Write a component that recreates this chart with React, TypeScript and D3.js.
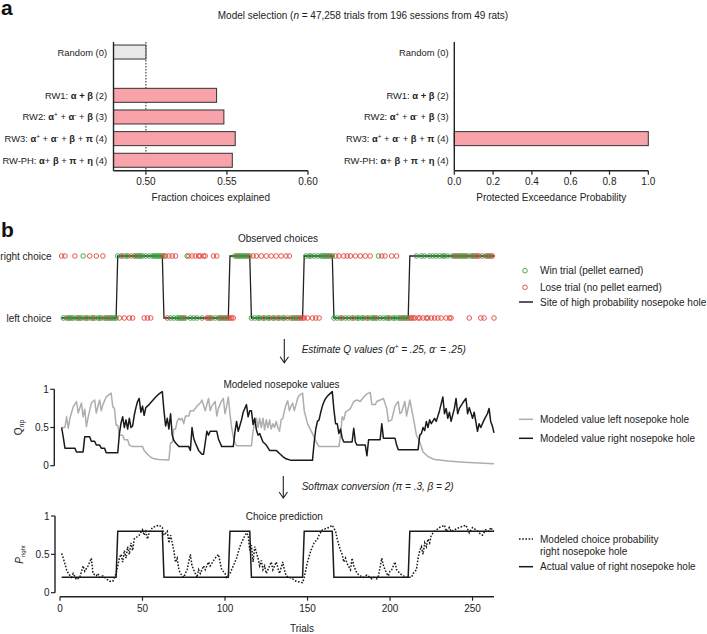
import * as d3 from "d3";

type Seg = [string, string?];
type Pt = [number, number];

const FONT = '"Liberation Sans", Arial, Helvetica, sans-serif';

// panel a data
const modelKeys = ["Random", "gap", "RW1", "RW2", "RW3", "RW-PH"];
const modelLabels: Seg[][] = [
  [["Random (0)"]],
  [],
  [["RW1: "], ["α + β", "b"], [" (2)"]],
  [["RW2: "], ["α", "b"], ["+", "sup"], [" + "], ["α", "b"], ["-", "sup"], [" + "], ["β", "b"], [" (3)"]],
  [["RW3: "], ["α", "b"], ["+", "sup"], [" + "], ["α", "b"], ["-", "sup"], [" + "], ["β", "b"], [" + "], ["π", "b"], [" (4)"]],
  [["RW-PH: "], ["α", "b"], ["+ "], ["β", "b"], [" + "], ["π", "b"], [" + "], ["η", "b"], [" (4)"]],
];
const fractionExplained = [0.5, null, 0.5436, 0.5481, 0.5551, 0.5533];
const exceedance = [0, null, 0, 0, 1, 0];
const fractionTicks = [0.5, 0.55, 0.6];
const exceedanceTicks = [0, 0.2, 0.4, 0.6, 0.8, 1];

// panel b data: R/L = right/left win, r/l = right/left lose
const choiceBlocks = [
  "rLrLlLLLrLlLLRLlLrLLlrLLLrlLLLlLLL",
  "RlRrlRRlrlRRrRRRlRlRlRRRRRRR",
  "rrlrLrLrLLLLlLRrLrLrLrrLrrllLlrLrLlLLlLl",
  "lllRRrRRRRRrR",
  "LrLrLLrLlrLLrlLrLlrLLrlrLlLLlLll",
  "lRlRRlRlRlRRRRRrRR",
  "LrLrLlrLrLrLlrLLrLLrlLrLLLlRLrLrLLlrLLrLLLlLLL",
  "llllRllRlRllRlRlRlRlRRlRllRrRRrRRRrRlRrRRrrlRlrRrRrl",
];
const blockStarts = [1, 35, 63, 103, 116, 148, 166, 212];
const blockSides = ["L", "R", "L", "R", "L", "R", "L", "R"];
const nTrials = 263;
const actualLow = 0.2;
const actualHigh = 0.8;

const qLeft: Pt[] = [
  [1, 0.5], [3, 0.5], [4, 0.64], [5, 0.49], [6, 0.62], [8, 0.77], [10, 0.84], [11, 0.69], [13, 0.82], [14, 0.64],
  [15, 0.74], [16, 0.51], [17, 0.63], [19, 0.82], [21, 0.86], [22, 0.69], [24, 0.86], [25, 0.72], [26, 0.8], [28, 0.9],
  [31, 0.95], [32, 0.77], [33, 0.75], [34, 0.53], [35, 0.53],
  [36, 0.4], [38, 0.4], [39, 0.34], [41, 0.34], [42, 0.27], [44, 0.25], [50, 0.25], [51, 0.2], [53, 0.15], [55, 0.11],
  [57, 0.09], [60, 0.08], [66, 0.075],
  [67, 0.3], [68, 0.3], [69, 0.48], [70, 0.48], [71, 0.58], [72, 0.62], [73, 0.6], [74, 0.62], [75, 0.55], [76, 0.65],
  [78, 0.65], [79, 0.72], [81, 0.72], [83, 0.78], [85, 0.82], [86, 0.86], [88, 0.72], [89, 0.8], [90, 0.88], [91, 0.72],
  [92, 0.78], [94, 0.84], [95, 0.65], [96, 0.75], [98, 0.85], [99, 0.88], [100, 0.68], [101, 0.78], [102, 0.9], [103, 0.68],
  [104, 0.5], [105, 0.38], [106, 0.3], [107, 0.26], [116, 0.26],
  [117, 0.45], [118, 0.58], [119, 0.62], [120, 0.5], [121, 0.62], [122, 0.5], [123, 0.62], [124, 0.47], [125, 0.6], [126, 0.5],
  [127, 0.6], [128, 0.48], [129, 0.55], [130, 0.5], [131, 0.58], [132, 0.5], [133, 0.45], [134, 0.6], [135, 0.62], [136, 0.72],
  [137, 0.8], [138, 0.85], [139, 0.72], [140, 0.78], [141, 0.82], [142, 0.72], [143, 0.8], [144, 0.88], [145, 0.92], [147, 0.95],
  [148, 0.72], [150, 0.55], [153, 0.42], [155, 0.32], [157, 0.25], [169, 0.25],
  [170, 0.4], [171, 0.64], [172, 0.6], [173, 0.7], [175, 0.73], [176, 0.75], [178, 0.84], [180, 0.86], [182, 0.84], [184, 0.9],
  [186, 0.94], [188, 0.96], [189, 0.8], [191, 0.8], [192, 0.84], [196, 0.88], [198, 0.75], [199, 0.58], [201, 0.6], [203, 0.78],
  [205, 0.84], [206, 0.68], [207, 0.7], [209, 0.84], [210, 0.65], [212, 0.86], [214, 0.64], [216, 0.4], [218, 0.31], [220, 0.18],
  [223, 0.12], [227, 0.08], [235, 0.06], [245, 0.045], [263, 0.025],
];

const qRight: Pt[] = [
  [1, 0.5], [2, 0.37], [3, 0.23], [9, 0.23], [10, 0.18], [14, 0.18], [15, 0.38], [18, 0.38], [19, 0.32], [21, 0.32],
  [22, 0.27], [24, 0.27], [25, 0.23], [27, 0.23], [28, 0.17], [35, 0.17],
  [36, 0.42], [37, 0.56], [38, 0.64], [39, 0.5], [40, 0.6], [41, 0.48], [42, 0.62], [43, 0.5], [44, 0.52], [45, 0.66],
  [46, 0.76], [47, 0.84], [48, 0.88], [49, 0.7], [50, 0.78], [51, 0.66], [52, 0.76], [54, 0.8], [56, 0.85], [58, 0.9],
  [60, 0.94], [62, 0.97],
  [63, 0.72], [64, 0.52], [65, 0.62], [66, 0.48], [67, 0.68], [68, 0.4], [69, 0.33], [70, 0.3], [72, 0.25], [78, 0.25],
  [79, 0.2], [80, 0.5], [81, 0.36], [82, 0.3], [83, 0.25], [84, 0.2], [86, 0.15], [87, 0.15], [89, 0.45], [90, 0.4],
  [91, 0.45], [95, 0.45], [96, 0.35], [97, 0.3], [98, 0.25], [105, 0.25],
  [106, 0.44], [107, 0.58], [108, 0.45], [110, 0.6], [111, 0.7], [113, 0.8], [114, 0.64], [115, 0.72], [116, 0.72], [117, 0.54],
  [118, 0.62], [119, 0.47], [120, 0.4], [121, 0.42], [123, 0.31], [125, 0.27], [127, 0.2], [131, 0.2], [133, 0.16], [135, 0.12],
  [137, 0.09], [140, 0.07], [153, 0.07],
  [154, 0.3], [155, 0.48], [156, 0.58], [157, 0.6], [158, 0.7], [159, 0.78], [160, 0.84], [161, 0.88], [162, 0.91], [163, 0.93],
  [164, 0.95], [165, 0.97],
  [166, 0.73], [167, 0.55], [168, 0.55], [169, 0.42], [170, 0.48], [171, 0.36], [172, 0.31], [177, 0.31], [178, 0.49], [179, 0.31],
  [180, 0.27], [185, 0.27], [186, 0.13], [187, 0.34], [194, 0.34], [195, 0.55], [196, 0.36], [203, 0.36], [204, 0.27], [205, 0.21],
  [217, 0.21],
  [218, 0.4], [219, 0.42], [220, 0.5], [221, 0.46], [222, 0.58], [223, 0.5], [224, 0.6], [225, 0.55], [227, 0.62], [228, 0.58],
  [230, 0.72], [232, 0.9], [233, 0.68], [234, 0.75], [235, 0.62], [236, 0.7], [237, 0.58], [239, 0.75], [240, 0.88], [241, 0.68],
  [242, 0.75], [244, 0.82], [246, 0.88], [247, 0.68], [248, 0.76], [250, 0.62], [251, 0.7], [253, 0.45], [254, 0.55], [255, 0.5],
  [257, 0.6], [259, 0.68], [260, 0.75], [261, 0.58], [262, 0.52], [263, 0.43],
];

const pRight: Pt[] = [
  [1, 0.51], [2, 0.45], [4, 0.3], [5, 0.25], [7, 0.2], [8, 0.25], [10, 0.17], [12, 0.2], [14, 0.35], [15, 0.28],
  [17, 0.35], [19, 0.45], [20, 0.25], [22, 0.22], [23, 0.25], [24, 0.2], [26, 0.22], [28, 0.18], [30, 0.15], [32, 0.15],
  [33, 0.2], [34, 0.25], [35, 0.35], [36, 0.45], [37, 0.5], [38, 0.4], [39, 0.55], [40, 0.45], [41, 0.6], [42, 0.5],
  [43, 0.65], [44, 0.55], [45, 0.7], [48, 0.75], [50, 0.82], [51, 0.75], [52, 0.8], [53, 0.7], [54, 0.78], [56, 0.85],
  [60, 0.88], [62, 0.85], [63, 0.75], [65, 0.8], [66, 0.65], [67, 0.75], [69, 0.55], [70, 0.4], [71, 0.45], [72, 0.3],
  [73, 0.25], [75, 0.2], [77, 0.3], [79, 0.5], [80, 0.35], [82, 0.25], [83, 0.2], [84, 0.3], [85, 0.25], [87, 0.35],
  [88, 0.3], [90, 0.4], [91, 0.35], [94, 0.45], [96, 0.5], [97, 0.4], [98, 0.3], [100, 0.25], [101, 0.2], [103, 0.25],
  [105, 0.35], [107, 0.45], [109, 0.6], [111, 0.7], [113, 0.78], [114, 0.75], [115, 0.55], [116, 0.62], [117, 0.4], [118, 0.6],
  [120, 0.45], [121, 0.35], [122, 0.42], [123, 0.3], [124, 0.35], [125, 0.25], [128, 0.4], [129, 0.3], [131, 0.4], [133, 0.25],
  [135, 0.4], [136, 0.3], [137, 0.22], [139, 0.2], [141, 0.18], [143, 0.15], [147, 0.13], [148, 0.2], [150, 0.4], [152, 0.55],
  [154, 0.65], [156, 0.7], [157, 0.75], [159, 0.82], [163, 0.85], [165, 0.88], [167, 0.8], [168, 0.7], [169, 0.62], [170, 0.55],
  [171, 0.5], [172, 0.4], [173, 0.45], [174, 0.38], [176, 0.3], [177, 0.45], [178, 0.35], [180, 0.25], [182, 0.22], [184, 0.2],
  [186, 0.23], [188, 0.2], [189, 0.18], [190, 0.2], [192, 0.18], [193, 0.22], [195, 0.45], [196, 0.35], [198, 0.25], [199, 0.22],
  [200, 0.28], [201, 0.3], [203, 0.4], [204, 0.3], [206, 0.25], [208, 0.22], [210, 0.2], [213, 0.2], [214, 0.25], [216, 0.3],
  [217, 0.45], [218, 0.55], [219, 0.6], [220, 0.5], [221, 0.65], [222, 0.6], [223, 0.7], [224, 0.65], [225, 0.75], [227, 0.8],
  [230, 0.85], [233, 0.88], [234, 0.8], [236, 0.85], [237, 0.8], [239, 0.82], [242, 0.85], [246, 0.88], [248, 0.78], [249, 0.82],
  [250, 0.85], [252, 0.82], [254, 0.78], [256, 0.75], [258, 0.82], [260, 0.8], [261, 0.85], [262, 0.82], [263, 0.8],
];

const trialTicks = [0, 50, 100, 150, 200, 250];
const valueTicks = [0, 0.5, 1];

const GREEN = "#35a03c";
const RED = "#e2453c";
const PINK = "#f8a2aa";
const INK = "#222";

function Rich({ segs }: { segs: Seg[] }) {
  let prevSup = false;
  return (
    <>
      {segs.map(([t, s], i) => {
        const sup = s === "sup";
        const dy = (sup ? -3.5 : 0) + (prevSup ? 3.5 : 0);
        prevSup = sup;
        return (
          <tspan
            key={i}
            dy={dy || undefined}
            fontWeight={s === "b" ? "bold" : undefined}
            fontStyle={s === "i" ? "italic" : undefined}
            fontSize={sup ? 6.5 : undefined}
          >
            {t}
          </tspan>
        );
      })}
    </>
  );
}

export default function App() {
  // panel a scales
  const yModel = d3.scalePoint<string>().domain(modelKeys).range([41.2, 171.1]).padding(0.5);
  const xFrac = d3.scaleLinear().domain([0.48, 0.6]).range([113.5, 308]);
  const xProb = d3.scaleLinear().domain([0, 1]).range([454.3, 648.3]);
  const axTop = 42;
  const axBot = 170.7;
  const barH = 14;

  // panel b scales
  const xT = d3.scaleLinear().domain([0, nTrials]).range([60, 494]);
  const yChoice = { R: 256, L: 318 } as Record<string, number>;
  const yQ = d3.scaleLinear().domain([0, 1]).range([465.7, 389.3]);
  const yP = d3.scaleLinear().domain([0, 1]).range([592.7, 516]);

  const choices = choiceBlocks.join("").split("").map((c, i) => ({
    trial: i + 1,
    side: c.toUpperCase(),
    win: c === c.toUpperCase(),
  }));

  const sitePts: [number, string][] = blockStarts.flatMap((s, i) => {
    const e = i < blockStarts.length - 1 ? blockStarts[i + 1] - 1 : nTrials;
    return [[s, blockSides[i]], [e, blockSides[i]]] as [number, string][];
  });

  const siteLine = d3.line<[number, string]>().x((d) => xT(d[0])).y((d) => yChoice[d[1]]);
  const actualLine = d3
    .line<[number, string]>()
    .x((d) => xT(d[0]))
    .y((d) => yP(d[1] === "R" ? actualHigh : actualLow));
  const qLine = d3.line<Pt>().x((d) => xT(d[0])).y((d) => yQ(d[1]));
  const pLine = d3.line<Pt>().x((d) => xT(d[0])).y((d) => yP(d[1]));

  const barChart = (
    x: d3.ScaleLinear<number, number>,
    values: (number | null)[],
    ticks: number[],
    fmt: (n: number) => string,
    labelX: number,
    title: string,
    showRef: boolean,
  ) => {
    const [x0, x1] = x.range();
    return (
      <g>
        {showRef && (
          <line x1={x(0.5)} x2={x(0.5)} y1={axTop} y2={axBot} stroke={INK} strokeDasharray="1.5,1.5" strokeWidth={1} />
        )}
        {values.map((v, i) =>
          v ? (
            <rect
              key={i}
              x={x(x.domain()[0])}
              y={(yModel(modelKeys[i]) ?? 0) - barH / 2}
              width={x(v) - x(x.domain()[0])}
              height={barH}
              fill={i === 0 ? "#e8e8ea" : PINK}
              stroke="#333"
              strokeWidth={1}
            />
          ) : null,
        )}
        {modelLabels.map((segs, i) => (
          <text key={i} x={labelX} y={(yModel(modelKeys[i]) ?? 0) + 3.5} textAnchor="end" fill={INK} fontSize={9.4}>
            <Rich segs={segs} />
          </text>
        ))}
        <line x1={x0} x2={x0} y1={axTop} y2={axBot} stroke={INK} strokeWidth={1.4} />
        <line x1={x0} x2={x1} y1={axBot} y2={axBot} stroke={INK} strokeWidth={1.4} />
        {ticks.map((t) => (
          <g key={t}>
            <line x1={x(t)} x2={x(t)} y1={axBot} y2={axBot + 4} stroke={INK} strokeWidth={1.2} />
            <text x={x(t)} y={axBot + 14.5} textAnchor="middle" fill={INK}>
              {fmt(t)}
            </text>
          </g>
        ))}
        <text x={(x0 + x1) / 2} y={axBot + 30.5} textAnchor="middle" fill={INK}>
          {title}
        </text>
      </g>
    );
  };

  const yAxis = (y: d3.ScaleLinear<number, number>, ax: number) => (
    <g>
      <line x1={ax} x2={ax} y1={y(1)} y2={y(0)} stroke={INK} strokeWidth={1.4} />
      {valueTicks.map((t) => (
        <g key={t}>
          <line x1={ax - 4} x2={ax} y1={y(t)} y2={y(t)} stroke={INK} strokeWidth={1.2} />
          <text x={ax - 5.5} y={y(t) + 3.5} textAnchor="end" fill={INK}>
            {t}
          </text>
        </g>
      ))}
    </g>
  );

  const arrow = (x: number, y0: number, y1: number) => (
    <g stroke={INK} strokeWidth={1.1} fill="none">
      <line x1={x} x2={x} y1={y0} y2={y1} />
      <path d={`M${x - 4.2},${y1 - 6}L${x},${y1}L${x + 4.2},${y1 - 6}`} />
    </g>
  );

  return (
    <svg
      width={707}
      height={634}
      style={{ position: "absolute", left: 0, top: 0, background: "#fff" }}
      fontFamily={FONT}
      fontSize={10}
    >
      <rect width={707} height={634} fill="#fff" />
      <text x={1} y={15} fontSize={21} fontWeight="bold" fill="#111">
        a
      </text>
      <text x={1} y={237} fontSize={21} fontWeight="bold" fill="#111">
        b
      </text>

      <text x={363} y={18.5} textAnchor="middle" fill={INK} style={{ whiteSpace: "pre" }}>
        Model selection (<tspan fontStyle="italic">n</tspan> = 47,258 trials from 196 sessions from 49 rats)
      </text>

      <g style={{ whiteSpace: "pre" }}>
        {barChart(xFrac, fractionExplained, fractionTicks, d3.format(".2f"), 107, "Fraction choices explained", true)}
        {barChart(xProb, exceedance, exceedanceTicks, d3.format(".1f"), 448.5, "Protected Exceedance Probability", false)}
      </g>

      {/* observed choices */}
      <text x={278} y={241.5} textAnchor="middle" fill={INK}>
        Observed choices
      </text>
      <text x={51.5} y={yChoice.R + 3.5} textAnchor="end" fill={INK}>
        right choice
      </text>
      <text x={51.5} y={yChoice.L + 3.5} textAnchor="end" fill={INK}>
        left choice
      </text>
      <path d={siteLine(sitePts) ?? ""} fill="none" stroke={INK} strokeWidth={1.3} />
      {choices.map((c) => (
        <circle
          key={c.trial}
          cx={xT(c.trial)}
          cy={yChoice[c.side]}
          r={2.3}
          fill="none"
          stroke={c.win ? GREEN : RED}
          strokeWidth={0.9}
        />
      ))}
      <circle cx={525} cy={270.7} r={2.3} fill="none" stroke={GREEN} strokeWidth={0.9} />
      <text x={540} y={274.2} fill={INK}>
        Win trial (pellet earned)
      </text>
      <circle cx={525} cy={287.3} r={2.3} fill="none" stroke={RED} strokeWidth={0.9} />
      <text x={540} y={290.8} fill={INK}>
        Lose trial (no pellet earned)
      </text>
      <line x1={519} x2={533} y1={302} y2={302} stroke={INK} strokeWidth={1.5} />
      <text x={540} y={305.5} fill={INK}>
        Site of high probability nosepoke hole
      </text>

      {arrow(284.3, 339, 362.7)}
      <text x={301.7} y={352.8} fill={INK} fontStyle="italic" style={{ whiteSpace: "pre" }}>
        <Rich segs={[["Estimate Q values ("], ["α"], ["+", "sup"], [" = .25, "], ["α"], ["-", "sup"], [" = .25)"]]} />
      </text>

      {/* modeled nosepoke values */}
      <text x={281.5} y={387.5} textAnchor="middle" fill={INK}>
        Modeled nosepoke values
      </text>
      {yAxis(yQ, 54.3)}
      <text transform="translate(21.5,427.5) rotate(-90)" textAnchor="middle" fill={INK}>
        Q<tspan fontSize={7} dy={2}>np</tspan>
      </text>
      <path d={qLine(qLeft) ?? ""} fill="none" stroke="#aeaeae" strokeWidth={1.5} strokeLinejoin="round" />
      <path d={qLine(qRight) ?? ""} fill="none" stroke="#1a1a1a" strokeWidth={1.5} strokeLinejoin="round" />
      <line x1={519} x2={533} y1={419.3} y2={419.3} stroke="#aeaeae" strokeWidth={1.5} />
      <text x={540} y={422.8} fill={INK}>
        Modeled value left nosepoke hole
      </text>
      <line x1={519} x2={533} y1={438.3} y2={438.3} stroke="#1a1a1a" strokeWidth={1.5} />
      <text x={540} y={441.8} fill={INK}>
        Modeled value right nosepoke hole
      </text>

      {arrow(283.3, 476, 498)}
      <text x={301.7} y={490} fill={INK} fontStyle="italic">
        Softmax conversion (π = .3, β = 2)
      </text>

      {/* choice prediction */}
      <text x={284.3} y={519.5} textAnchor="middle" fill={INK}>
        Choice prediction
      </text>
      {yAxis(yP, 55)}
      <text transform="translate(23,554.5) rotate(-90)" textAnchor="middle" fill={INK}>
        <tspan fontStyle="italic">P</tspan>
        <tspan fontSize={6} dy={2}>right</tspan>
      </text>
      <path d={actualLine(sitePts) ?? ""} fill="none" stroke="#1a1a1a" strokeWidth={1.5} />
      <path d={pLine(pRight) ?? ""} fill="none" stroke="#1a1a1a" strokeWidth={1.5} strokeDasharray="1.6,1.6" />
      <line x1={xT(0)} x2={xT(nTrials)} y1={596.7} y2={596.7} stroke={INK} strokeWidth={1.4} />
      {trialTicks.map((t) => (
        <g key={t}>
          <line x1={xT(t)} x2={xT(t)} y1={596.7} y2={600.7} stroke={INK} strokeWidth={1.2} />
          <text x={xT(t)} y={612} textAnchor="middle" fill={INK}>
            {t}
          </text>
        </g>
      ))}
      <text x={302} y={632} textAnchor="middle" fill={INK}>
        Trials
      </text>
      <line x1={519} x2={533} y1={539} y2={539} stroke="#1a1a1a" strokeWidth={1.5} strokeDasharray="1.6,1.6" />
      <text x={540} y={542.5} fill={INK}>
        Modeled choice probability
      </text>
      <text x={540} y={555} fill={INK}>
        right nosepoke hole
      </text>
      <line x1={519} x2={533} y1={566.7} y2={566.7} stroke="#1a1a1a" strokeWidth={1.5} />
      <text x={540} y={570.2} fill={INK}>
        Actual value of right nosepoke hole
      </text>
    </svg>
  );
}
